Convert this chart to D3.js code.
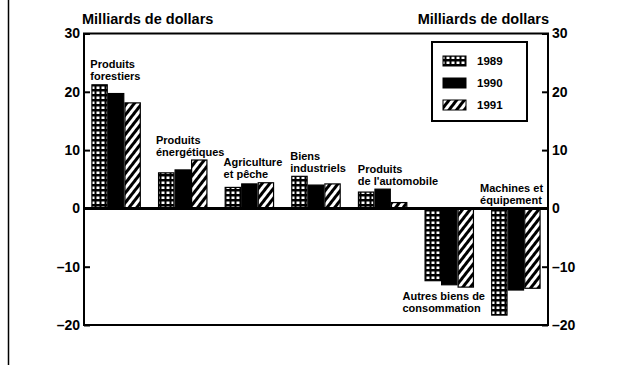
<!DOCTYPE html>
<html>
<head>
<meta charset="utf-8">
<script src="https://cdn.jsdelivr.net/npm/d3@7"></script>
<style>
  body { margin: 0; background: #fff; }
  svg { display: block; }
  text { font-family: "Liberation Sans", Arial, Helvetica, sans-serif; fill: #000; }
</style>
</head>
<body>
<svg id="chart" width="619" height="365"></svg>
<script>
// Balance commerciale par groupe de produits (milliards de dollars)
const categories = [
  "Produits forestiers",
  "Produits énergétiques",
  "Agriculture et pêche",
  "Biens industriels",
  "Produits de l'automobile",
  "Autres biens de consommation",
  "Machines et équipement"
];
const categoryLines = [
  ["Produits", "forestiers"],
  ["Produits", "énergétiques"],
  ["Agriculture", "et pêche"],
  ["Biens", "industriels"],
  ["Produits", "de l'automobile"],
  ["Autres biens de", "consommation"],
  ["Machines et", "équipement"]
];
const years = ["1989", "1990", "1991"];
const values1989 = [21.2, 6.1, 3.6, 5.5, 2.8, -12.4, -18.3];
const values1990 = [19.7, 6.6, 4.2, 4.0, 3.3, -13.1, -14.0];
const values1991 = [18.1, 8.3, 4.4, 4.2, 1.0, -13.5, -13.7];
const yTicks = [-20, -10, 0, 10, 20, 30];
const axisTitle = "Milliards de dollars";

// label placement: side of the bars and horizontal nudge (px)
const labelSide = ["above", "above", "above", "above", "above", "below", "above"];
const labelDx = [-1, -2, -1, -1, 0, -22, -11];

const seriesByYear = { "1989": values1989, "1990": values1990, "1991": values1991 };
const fillByYear = { "1989": "url(#grid)", "1990": "#000", "1991": "url(#hatch)" };

const svg = d3.select("#chart");
const plotLeft = 84, plotRight = 548, plotTop = 33.5, plotBottom = 325;

const x = d3.scaleBand().domain(categories).range([plotLeft, plotRight])
  .paddingInner(0.256).paddingOuter(0.11);
const xs = d3.scaleBand().domain(years).range([0, x.bandwidth()]);
const y = d3.scaleLinear().domain([-20, 30]).range([plotBottom, plotTop]);

// fill patterns
const defs = svg.append("defs");
const grid = defs.append("pattern").attr("id", "grid")
  .attr("patternUnits", "userSpaceOnUse").attr("width", 5).attr("height", 5);
grid.append("rect").attr("width", 5).attr("height", 5).attr("fill", "#000");
grid.append("rect").attr("x", 1.5).attr("y", 1.5).attr("width", 3).attr("height", 2.5).attr("fill", "#fff");

const hatch = defs.append("pattern").attr("id", "hatch")
  .attr("patternUnits", "userSpaceOnUse").attr("width", 6).attr("height", 6)
  .attr("patternTransform", "rotate(38)");
hatch.append("rect").attr("width", 6).attr("height", 6).attr("fill", "#fff");
hatch.append("rect").attr("width", 3).attr("height", 6).attr("fill", "#000");

// page edge rule
svg.append("line").attr("x1", 8.5).attr("x2", 8.5).attr("y1", 0).attr("y2", 365)
  .attr("stroke", "#000").attr("stroke-width", 1.5);

// bars
const rows = [];
categories.forEach((c, i) => years.forEach(yr => rows.push({ c, i, yr, v: seriesByYear[yr][i] })));
svg.append("g").selectAll("rect").data(rows).join("rect")
  .attr("x", d => x(d.c) + xs(d.yr) + 0.6)
  .attr("width", xs.bandwidth() - 1.2)
  .attr("y", d => Math.min(y(d.v), y(0)))
  .attr("height", d => Math.abs(y(d.v) - y(0)))
  .attr("fill", d => fillByYear[d.yr])
  .attr("stroke", "#000").attr("stroke-width", 1.2);

// frame
svg.append("rect").attr("x", plotLeft).attr("y", plotTop)
  .attr("width", plotRight - plotLeft).attr("height", plotBottom - plotTop)
  .attr("fill", "none").attr("stroke", "#000").attr("stroke-width", 2);

// zero line
svg.append("line").attr("x1", plotLeft).attr("x2", plotRight).attr("y1", y(0)).attr("y2", y(0))
  .attr("stroke", "#000").attr("stroke-width", 3);

// axes
const fmt = d => d < 0 ? "–" + Math.abs(d) : String(d);
const gl = svg.append("g").attr("transform", `translate(${plotLeft},0)`)
  .call(d3.axisLeft(y).tickValues(yTicks).tickFormat(fmt).tickSizeInner(-6).tickSizeOuter(0).tickPadding(4));
const gr = svg.append("g").attr("transform", `translate(${plotRight},0)`)
  .call(d3.axisRight(y).tickValues(yTicks).tickFormat(fmt).tickSizeInner(-6).tickSizeOuter(0).tickPadding(4));
[gl, gr].forEach(g => {
  g.select(".domain").remove();
  g.selectAll(".tick line").attr("stroke", "#000").attr("stroke-width", 2);
  g.selectAll(".tick text").attr("font-size", 14).attr("font-weight", "bold").attr("fill", "#000")
    .attr("font-family", "'Liberation Sans', Arial, sans-serif");
});

// axis titles
svg.append("text").attr("x", 82).attr("y", 24).attr("font-size", 14.5).attr("font-weight", "bold")
  .text(axisTitle);
svg.append("text").attr("x", 549).attr("y", 24).attr("text-anchor", "end").attr("font-size", 14.5)
  .attr("font-weight", "bold").text(axisTitle);

// category labels
const lineGap = 12;
categories.forEach((c, i) => {
  const vals = years.map(yr => seriesByYear[yr][i]);
  const lines = categoryLines[i];
  const lx = x(c) + labelDx[i];
  let base;
  if (labelSide[i] === "above") {
    const topY = Math.min(y(0), ...vals.map(v => y(v)));
    base = topY - 4.5 - (lines.length - 1) * lineGap;
  } else {
    const lowY = Math.max(y(0), ...vals.map(v => y(v)));
    base = lowY + 12.5;
  }
  const t = svg.append("text").attr("font-size", 11).attr("font-weight", 900);
  lines.forEach((ln, k) => t.append("tspan").attr("x", lx).attr("y", base + k * lineGap).text(ln));
});

// legend
const lg = svg.append("g");
lg.append("rect").attr("x", 432).attr("y", 42).attr("width", 95).attr("height", 79)
  .attr("fill", "#fff").attr("stroke", "#000").attr("stroke-width", 2);
years.forEach((yr, k) => {
  const yy = 56 + k * 22;
  lg.append("rect").attr("x", 443).attr("y", yy).attr("width", 23).attr("height", 10)
    .attr("fill", fillByYear[yr]).attr("stroke", "#000").attr("stroke-width", 1);
  lg.append("text").attr("x", 477).attr("y", yy + 9).attr("font-size", 11.5).attr("font-weight", "bold")
    .text(yr);
});
</script>
</body>
</html>
